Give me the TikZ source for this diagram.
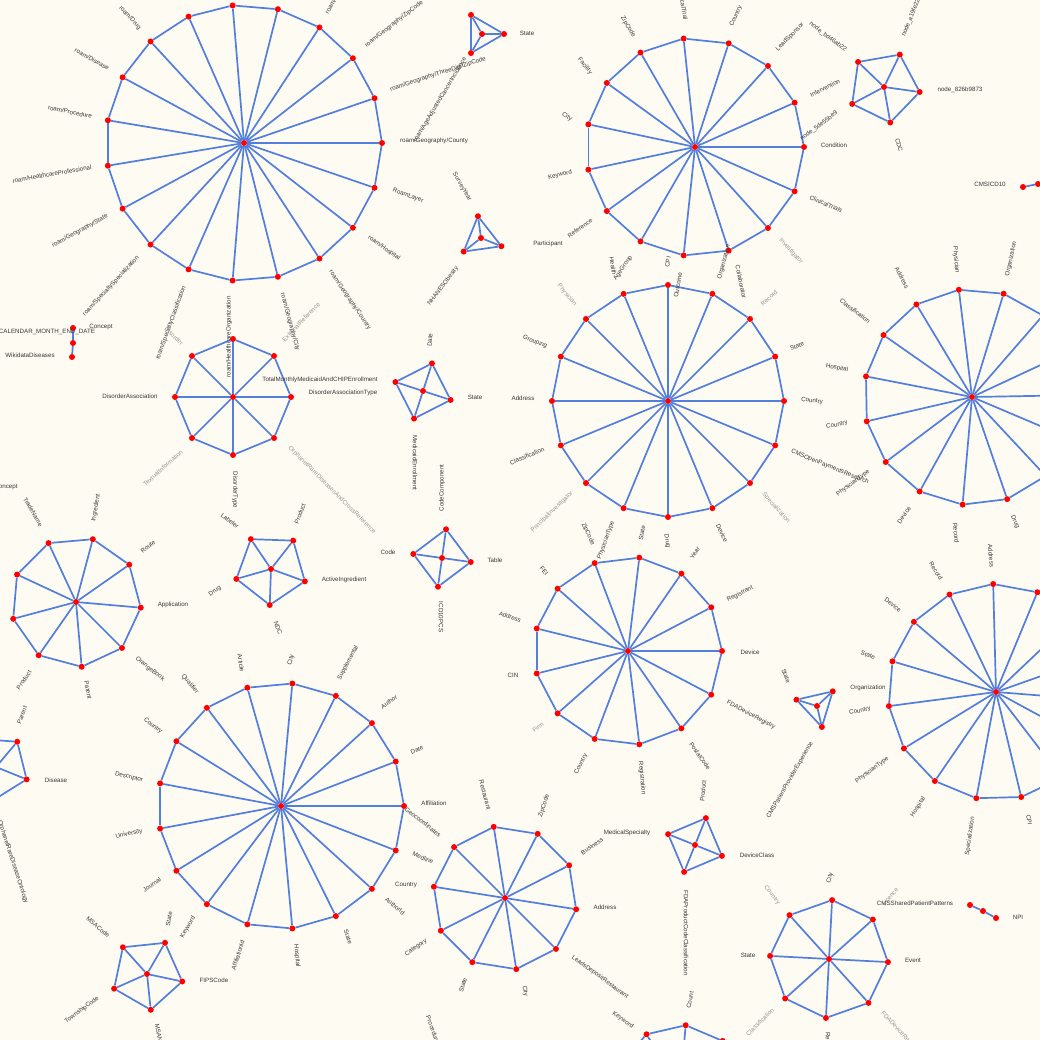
\documentclass[tikz,border=0pt]{standalone}
\usepackage{fontspec}
\setmainfont{Liberation Sans}
\usepackage{tikz}
\usetikzlibrary{calc}
\definecolor{bgcream}{RGB}{254,251,242}
\definecolor{edgeblue}{RGB}{82,126,222}
\definecolor{vtxred}{RGB}{255,0,0}
\definecolor{lbldark}{RGB}{55,55,55}
\definecolor{lblgrey}{RGB}{150,150,150}
\tikzset{
  edgeln/.style={line width=1.7pt, edgeblue},
  vtx/.style={circle, fill=vtxred, inner sep=0pt, minimum size=6pt},
  lbl/.style={font=\fontsize{6.2}{7}\selectfont, text=lbldark, inner sep=0pt},
  lblg/.style={lbl, text=lblgrey},
}
% wheel: name, centre x, centre y, radius, rim count, first angle
\newcommand{\wheelgraph}[6]{%
  \node[vtx] (#1-c) at (#2,#3) {};
  \foreach \k in {1,...,#5}{
    \node[vtx] (#1-\k) at ({#2+#4*cos(#6+360*(\k-1)/#5)},{#3-#4*sin(#6+360*(\k-1)/#5)}) {};
  }
  \foreach \k in {1,...,#5}{
    \pgfmathtruncatemacro{\nxt}{mod(\k,#5)+1}
    \draw[edgeln] (#1-c) -- (#1-\k);
    \draw[edgeln] (#1-\k) -- (#1-\nxt);
  }
}

\begin{document}
\begin{tikzpicture}[x=1pt, y=-1pt]
  \useasboundingbox (0,0) rectangle (1040,1040);
  \fill[bgcream] (0,0) rectangle (1040,1040);
  \clip (0,0) rectangle (1040,1040);

  % the wheels
  \wheelgraph{wA}{244}{143}{138}{19}{0}
  \wheelgraph{wB}{695}{147}{109}{15}{0}
  \wheelgraph{wC}{668}{401}{116}{16}{0}
  \wheelgraph{wD}{972}{397}{108}{15}{1}
  \wheelgraph{wE}{996}{692}{108}{15}{19.5}
  \wheelgraph{wF}{628}{651}{94}{13}{0}
  \wheelgraph{wG}{281}{806}{123}{17}{0}
  \wheelgraph{wH}{76}{602}{65}{9}{-5}
  \wheelgraph{wI}{233}{397}{58}{8}{0}
  \wheelgraph{wK}{505}{898}{72}{10}{-9}
  \wheelgraph{wL}{829}{959}{59}{8}{-3}
  \wheelgraph{wJ}{-4}{767}{33}{5}{-22}
  \wheelgraph{wM}{680}{1090}{65}{10}{85}
  \wheelgraph{t1}{482}{34}{22}{3}{0}
  \wheelgraph{t2}{481}{238}{22}{3}{-22}
  \wheelgraph{t3}{817}{706}{21.5}{3}{43}
  \wheelgraph{q1}{423}{391}{29}{4}{-18}
  \wheelgraph{q2}{442}{558}{29}{4}{-8}
  \wheelgraph{q3}{695}{845}{29}{4}{-22}
  \wheelgraph{p1}{884}{87}{36}{5}{-8}
  \wheelgraph{p2}{271}{569}{36}{5}{-20}
  \wheelgraph{p3}{147}{974}{36}{5}{-12}

  % short chains
  \node[vtx] (ch1) at (73,328) {};
  \node[vtx] (ch2) at (73,343) {};
  \node[vtx] (ch3) at (72,357) {};
  \draw[edgeln] (ch1) -- (ch2) -- (ch3);
  \node[vtx] (icd1) at (1023,187) {};
  \node[vtx] (icd2) at (1038,184) {};
  \draw[edgeln] (icd1) -- (icd2);
  \node[vtx] (npi1) at (970,905) {};
  \node[vtx] (npi2) at (983,911) {};
  \node[vtx] (npi3) at (996,918) {};
  \draw[edgeln] (npi1) -- (npi2) -- (npi3);

  % labels round wheel A
  \node[lbl, rotate=-47] (aDrug) at (130,18) {roam/Drug};
  \node[lbl, rotate=-29] (aDisease) at (92,59) {roam/Disease};
  \node[lbl, rotate=-11] (aProc) at (70,112) {roam/Procedure};
  \node[lbl, rotate=10] (aHcp) at (52,174) {roam/HealthcareProfessional};
  \node[lbl, rotate=29] (aGeoState) at (80,231) {roam/Geography/State};
  \node[lbl, rotate=47] (aSpecSpec) at (111,286) {roam/SpecialtySpecialization};
  \node[lbl, rotate=70] (aSpecClass) at (171,323) {roam/SpecialtyClassification};
  \node[lblg, rotate=-45] (aDisorder) at (174,336) {Disorder};
  \node[lbl, rotate=90] (aHcOrg) at (229,337) {roam/HealthcareOrganization};
  \node[lbl, rotate=-75] (aGeoCity) at (290,322) {roam/Geography/City};
  \node[lblg, rotate=46] (aExtRef) at (301,322) {ExternalReference};
  \node[lbl, rotate=-56] (aGeoCountry) at (350,300) {roam/Geography/Country};
  \node[lbl, rotate=-36] (aHospital) at (384,248) {roam/Hospital};
  \node[lbl, rotate=-20] (aLayer) at (408,196) {RoamLayer};
  \node[lbl] (aGeoCounty) at (434,141) {roam/Geography/County};
  \node[lbl, rotate=18] (aGeoThree) at (438,74) {roam/Geography/ThreeDigitZipCode};
  \node[lbl, rotate=38] (aGeoZip) at (394,24) {roam/Geography/ZipCode};
  \node[lbl, rotate=59] (aCancer) at (440,100) {roam/AgeAdjustedCancerIncidence};
  \node[lbl, rotate=60, anchor=west] (aTop) at (327,14) {roam/Geography};

  % labels of the two top triangles
  \node[lbl] (tState) at (527,33) {State};
  \node[lbl] (tPart) at (548,244) {Participant};
  \node[lbl, rotate=-60] (tSurvey) at (462,187) {SurveyYear};
  \node[lbl, rotate=53] (tObesity) at (443,286) {NHANESObesity};

  % labels round wheel B
  \node[lbl, rotate=-60] (bZip) at (628,27) {ZipCode};
  \node[lbl, rotate=-80] (bTrial) at (683,4) {ClinicalTrial};
  \node[lbl, rotate=65] (bCountry) at (736,16) {Country};
  \node[lbl, rotate=45] (bSponsor) at (790,37) {LeadSponsor};
  \node[lbl, rotate=-50] (bFacility) at (585,66) {Facility};
  \node[lbl, rotate=-30] (bCity) at (567,117) {City};
  \node[lbl, rotate=12] (bKeyword) at (560,175) {Keyword};
  \node[lbl, rotate=35] (bRef) at (580,228) {Reference};
  \node[lbl, rotate=-80] (bHealth) at (613,266) {Health};
  \node[lbl, rotate=55] (bAge) at (623,268) {AgeGroup};
  \node[lbl, rotate=80] (bCpi) at (668,262) {CPI};
  \node[lbl, rotate=75] (bOrg) at (724,262) {Organization};
  \node[lbl, rotate=-78] (bCollab) at (741,282) {Collaborator};
  \node[lbl, rotate=27] (bInterv) at (825,88) {Intervention};
  \node[lbl, rotate=37] (bNode) at (819,126) {node\_5de55be9};
  \node[lbl] (bCond) at (834,145) {Condition};
  \node[lbl, rotate=-23] (bTrials) at (826,204) {ClinicalTrials};
  \node[lblg, rotate=-48] (bInvest) at (791,251) {Investigator};
  \node[lblg, rotate=42] (bRecord) at (769,298) {Record};

  % labels round pentagon p1
  \node[lbl, rotate=-37] (pNodeA) at (828,37) {node\_bd46ab22};
  \node[lbl, rotate=68] (pNodeB) at (911,18) {node\_a19fe22};
  \node[lbl] (pNodeC) at (960,90) {node\_826b9873};
  \node[lbl, rotate=-75] (pCdc) at (899,145) {CDC};
  \node[lbl] (icdLbl) at (990,184) {CMSICD10};

  % labels round wheel C
  \node[lblg, rotate=-50] (cPhys) at (567,295) {Physician};
  \node[lbl, rotate=-22] (cGroup) at (535,342) {Grouping};
  \node[lbl, rotate=80] (cOutcome) at (678,285) {Outcome};
  \node[lbl, rotate=25] (cState) at (797,346) {State};
  \node[lbl, rotate=-5] (cCountry) at (812,401) {Country};
  \node[lbl, rotate=-22] (cOpen) at (830,467) {CMSOpenPaymentsResearch};
  \node[lblg, rotate=-48] (cSpec) at (776,508) {Specialization};
  \node[lbl, rotate=-65] (cDevice) at (722,533) {Device};
  \node[lbl, rotate=-80] (cDrug) at (667,541) {Drug};
  \node[lbl, rotate=80] (cState2) at (642,533) {State};
  \node[lbl, rotate=70] (cPhysType) at (606,540) {PhysicianType};
  \node[lbl, rotate=-65] (cZip) at (588,534) {ZipCode};
  \node[lblg, rotate=44] (cPrinc) at (552,512) {PrincipalInvestigator};
  \node[lbl, rotate=23] (cClass) at (527,456) {Classification};
  \node[lbl] (cAddr) at (523,398) {Address};

  % labels round wheel D
  \node[lbl, rotate=-62] (dAddr) at (902,278) {Address};
  \node[lbl, rotate=-85] (dPhys) at (956,260) {Physician};
  \node[lbl, rotate=78] (dOrg) at (1011,259) {Organization};
  \node[lbl, rotate=-38] (dClass) at (855,311) {Classification};
  \node[lbl, rotate=-12] (dHosp) at (837,368) {Hospital};
  \node[lbl, rotate=12] (dCountry) at (837,425) {Country};
  \node[lbl, rotate=37] (dPhysType) at (853,483) {PhysicianType};
  \node[lbl, rotate=55] (dDevice) at (904,515) {Device};
  \node[lbl, rotate=-85] (dRecord) at (956,533) {Record};
  \node[lbl, rotate=-65] (dDrug) at (1015,522) {Drug};

  % labels round wheel E
  \node[lbl, rotate=-85] (eAddr) at (991,556) {Address};
  \node[lbl, rotate=-58] (eRecord) at (936,571) {Record};
  \node[lbl, rotate=-38] (eDevice) at (893,605) {Device};
  \node[lbl, rotate=-18] (eState) at (868,655) {State};
  \node[lbl] (eOrg) at (868,688) {Organization};
  \node[lbl, rotate=12] (eCountry) at (860,711) {Country};
  \node[lbl, rotate=37] (ePhysType) at (872,770) {PhysicianType};
  \node[lbl, rotate=58] (eHosp) at (918,807) {Hospital};
  \node[lbl, rotate=82] (eSpec) at (970,836) {Specialization};
  \node[lbl, rotate=-80] (eCpi) at (1029,820) {CPI};

  % labels round wheel F and triangle t3
  \node[lbl, rotate=55] (fYear) at (695,553) {Year};
  \node[lbl, rotate=27] (fRegistrant) at (740,594) {Registrant};
  \node[lbl] (fDevice) at (750,652) {Device};
  \node[lbl, rotate=-68] (fState) at (786,676) {State};
  \node[lbl, rotate=-50] (fFei) at (544,571) {FEI};
  \node[lbl, rotate=-20] (fAddr) at (510,617) {Address};
  \node[lbl] (fCin) at (513,675) {CIN};
  \node[lblg, rotate=38] (fFirm) at (538,727) {Firm};
  \node[lbl, rotate=62] (fCountry) at (581,764) {Country};
  \node[lbl, rotate=-85] (fRegistration) at (642,778) {Registration};
  \node[lbl, rotate=-55] (fPostal) at (700,756) {PostalCode};
  \node[lbl, rotate=85] (fProduct) at (703,791) {Product};
  \node[lbl, rotate=-28] (tRegistry) at (751,715) {FDADeviceRegistry};
  \node[lbl, rotate=60] (tExperience) at (790,780) {CMSPatientProviderExperience};

  % labels round wheel G
  \node[lbl, rotate=35] (gAuthor) at (389,702) {Author};
  \node[lbl, rotate=25] (gDate) at (417,750) {Date};
  \node[lbl] (gAffil) at (434,803) {Affiliation};
  \node[lbl, rotate=-38] (gGeo) at (423,822) {Geocoordinates};
  \node[lbl, rotate=-22] (gMedline) at (423,858) {Medline};
  \node[lbl] (gCountry) at (406,885) {Country};
  \node[lbl, rotate=-40] (gAuthorId) at (395,906) {AuthorId};
  \node[lbl, rotate=-70] (gState) at (348,937) {State};
  \node[lbl, rotate=-85] (gHosp) at (297,956) {Hospital};
  \node[lbl, rotate=72] (gAffilId) at (238,955) {AffiliationId};
  \node[lbl, rotate=60] (gKeyword) at (188,927) {Keyword};
  \node[lbl, rotate=80] (gState2) at (169,919) {State};
  \node[lbl, rotate=35] (gJournal) at (152,885) {Journal};
  \node[lbl, rotate=12] (gUniv) at (129,834) {University};
  \node[lbl, rotate=-12] (gDesc) at (129,777) {Descriptor};
  \node[lbl, rotate=-38] (gCountry2) at (153,726) {Country};
  \node[lbl, rotate=-50] (gQual) at (190,684) {Qualifier};
  \node[lbl, rotate=-80] (gArticle) at (241,663) {Article};
  \node[lbl, rotate=75] (gCity) at (291,660) {City};
  \node[lbl, rotate=62] (gSuppl) at (348,663) {Supplemental};

  % labels round wheel H
  \node[lbl, rotate=80] (hIngr) at (96,508) {Ingredient};
  \node[lbl, rotate=-60] (hTrade) at (33,512) {TradeName};
  \node[lbl] (hConcept) at (6,487) {Concept};
  \node[lbl, rotate=38] (hRoute) at (148,547) {Route};
  \node[lbl] (hAppl) at (173,605) {Application};
  \node[lbl, rotate=-38] (hOrange) at (150,669) {OrangeBook};
  \node[lbl, rotate=-78] (hPatent) at (88,690) {Patent};
  \node[lbl, rotate=55] (hProduct) at (24,680) {Product};

  % labels round wheel I and the chain
  \node[lbl] (iDisAssoc) at (130,396) {DisorderAssociation};
  \node[lbl] (iMedicaid) at (320,380) {TotalMonthlyMedicaidAndCHIPEnrollment};
  \node[lbl] (iAssocType) at (343,393) {DisorderAssociationType};
  \node[lblg, rotate=42] (iTextual) at (163,468) {TextualInformation};
  \node[lbl, rotate=-90] (iDisType) at (235,490) {DisorderType};
  \node[lblg, rotate=-45] (iOrphanet) at (332,490) {OrphanetRareDiseasesAndCrossReference};
  \node[lbl] (chConcept) at (101,327) {Concept};
  \node[lbl] (chCalendar) at (47,332) {CALENDAR\_MONTH\_END\_DATE};
  \node[lbl] (chWiki) at (30,355) {WikidataDiseases};

  % labels of quads q1, q2 and pentagon p2
  \node[lbl, rotate=85] (qDate) at (430,340) {Date};
  \node[lbl] (qState) at (475,397) {State};
  \node[lbl, rotate=-90] (qEnroll) at (415,463) {MedicaidEnrollment};
  \node[lbl, rotate=90] (qCodeComp) at (442,488) {CodeComponent};
  \node[lbl] (qCode) at (388,552) {Code};
  \node[lbl] (qTable) at (495,560) {Table};
  \node[lbl, rotate=-90] (qIcd) at (441,617) {ICD10PCS};
  \node[lbl, rotate=-38] (pLabeler) at (230,521) {Labeler};
  \node[lbl, rotate=70] (pProduct) at (300,514) {Product};
  \node[lbl] (pActive) at (344,580) {ActiveIngredient};
  \node[lbl, rotate=-70] (pNdc) at (278,628) {NDC};
  \node[lbl, rotate=35] (pDrug) at (215,591) {Drug};

  % labels of wheel J and pentagon p3
  \node[lbl, rotate=70] (jParent) at (22,715) {Parent};
  \node[lbl] (jDisease) at (56,780) {Disease};
  \node[lbl, rotate=-72] (jOntology) at (13,862) {OrphanetRareDiseaseOntology};
  \node[lbl, rotate=-40] (pMsa) at (98,927) {MSACode};
  \node[lbl] (pFips) at (214,980) {FIPSCode};
  \node[lbl, rotate=37] (pTownship) at (82,1010) {TownshipCode};
  \node[lbl, rotate=-80, anchor=west] (pMsaName) at (157,1024) {MSAName};

  % labels round wheel K and quad q3
  \node[lbl, rotate=-75] (kRest) at (485,795) {Restaurant};
  \node[lbl, rotate=72] (kZip) at (544,806) {ZipCode};
  \node[lbl, rotate=35] (kBusiness) at (592,846) {Business};
  \node[lbl] (kMedSpec) at (627,833) {MedicalSpecialty};
  \node[lbl] (kAddr) at (605,907) {Address};
  \node[lbl, rotate=-36] (kLeads) at (600,977) {LeadsDepositRestaurant};
  \node[lbl, rotate=-80] (kCity) at (525,991) {City};
  \node[lbl, rotate=72] (kState) at (463,985) {State};
  \node[lbl, rotate=35] (kCategory) at (416,948) {Category};
  \node[lbl, rotate=-35] (kKeyword) at (623,1020) {Keyword};
  \node[lbl, rotate=-70, anchor=west] (kProc) at (428,1016) {Procedure};
  \node[lbl] (qDevClass) at (757,855) {DeviceClass};
  \node[lbl, rotate=-90] (qFdaCode) at (686,933) {FDAProductCodeClassification};
  \node[lbl, rotate=80] (qCount) at (690,1000) {Count};

  % labels round wheel L and the NPI chain
  \node[lbl, rotate=75] (lCity) at (830,878) {City};
  \node[lblg, rotate=-52] (lCountry) at (772,895) {Country};
  \node[lblg, rotate=50] (lLicence) at (890,897) {Licence};
  \node[lbl] (lShared) at (915,903) {CMSSharedPatientPatterns};
  \node[lbl] (lState) at (748,955) {State};
  \node[lbl] (lEvent) at (913,960) {Event};
  \node[lblg, rotate=45] (lClass) at (760,1022) {Classification};
  \node[lblg, rotate=-48, anchor=west] (lRegistry) at (882,1012) {FDADeviceRegistry};
  \node[lbl, rotate=-90, anchor=west] (lRecord) at (828,1032) {Record};
  \node[lbl] (npiLbl) at (1018,917) {NPI};
\end{tikzpicture}
\end{document}
